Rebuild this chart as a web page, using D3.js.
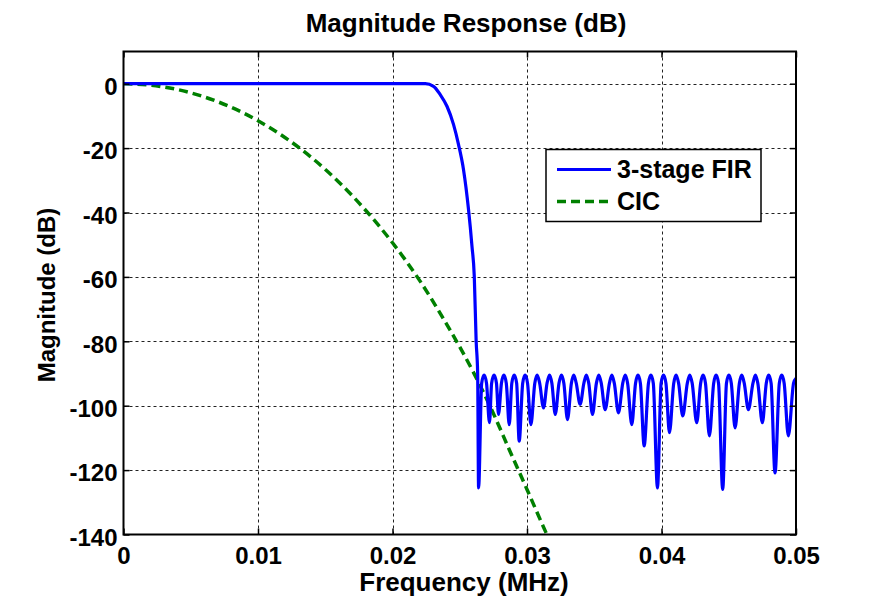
<!DOCTYPE html>
<html>
<head>
<meta charset="utf-8">
<script src="https://cdn.jsdelivr.net/npm/d3@7"></script>
<style>
  html, body { margin: 0; padding: 0; background: #fff; }
  svg text { font-family: "Liberation Sans", Arial, Helvetica, sans-serif; font-weight: bold; fill: #000; }
</style>
</head>
<body>
<svg id="chart" width="883" height="598"></svg>
<script>
// axis ticks
const freqTicks = [0, 0.01, 0.02, 0.03, 0.04, 0.05];
const dbTicks = [0, -20, -40, -60, -80, -100, -120, -140];

// 3-stage FIR: passband and transition band (MHz, dB)
const firPassband = [
  [0, 0], [0.02244, 0], [0.02305, -0.8], [0.02355, -3.4], [0.02405, -7.0],
  [0.02454, -12.7], [0.02491, -18.9], [0.02528, -26.7], [0.02565, -39.0],
  [0.02591, -50.5], [0.02608, -59.8], [0.02622, -80.0], [0.02633, -89.7]
];
// stopband nulls (MHz, dB)
const firNulls = [
  [0.0264, -125.5], [0.02721, -105.3], [0.02788, -102.7], [0.02868, -105.9],
  [0.02942, -111.0], [0.03029, -105.9], [0.03123, -100.7], [0.0321, -102.7],
  [0.03301, -104.3], [0.03395, -99.6], [0.03487, -102.7], [0.03581, -101.2],
  [0.0368, -102.2], [0.03779, -105.9], [0.03871, -112.5], [0.0397, -125.5],
  [0.04059, -108.4], [0.04158, -103.2], [0.04262, -105.3], [0.04356, -109.4],
  [0.04455, -126.0], [0.04547, -106.9], [0.04646, -101.2], [0.0475, -105.3],
  [0.04844, -120.9], [0.04943, -109.4]
];
// stopband ripple peaks (MHz, dB)
const firPeaks = [
  [0.02681, -90.5], [0.02755, -90.5], [0.02828, -90.5], [0.02905, -90.5],
  [0.02986, -90.5], [0.03076, -90.5], [0.03167, -90.5], [0.03256, -90.5],
  [0.03348, -90.5], [0.03441, -90.5], [0.03534, -90.5], [0.03631, -90.5],
  [0.0373, -90.5], [0.03825, -90.5], [0.03921, -90.5], [0.04015, -90.5],
  [0.04109, -90.5], [0.0421, -90.5], [0.04309, -90.5], [0.04406, -90.5],
  [0.04501, -90.5], [0.04597, -90.5], [0.04698, -90.5], [0.04797, -90.5],
  [0.04894, -90.5], [0.05, -91.5]
];
// where each rounded lobe top turns steep (MHz, dB)
const firShoulders = [
  [0.02663, -93], [0.02699, -93], [0.02737, -93], [0.02773, -93],
  [0.0281, -93], [0.02846, -93], [0.02887, -93], [0.02923, -93],
  [0.02968, -93], [0.03004, -93], [0.03058, -93], [0.03094, -93],
  [0.03149, -93], [0.03185, -93], [0.03238, -93], [0.03274, -93],
  [0.0333, -93], [0.03366, -93], [0.03423, -93], [0.03459, -93],
  [0.03516, -93], [0.03552, -93], [0.03613, -93], [0.03649, -93],
  [0.03712, -93], [0.03748, -93], [0.03807, -93], [0.03843, -93],
  [0.03903, -93], [0.03939, -93], [0.03997, -93], [0.04033, -93],
  [0.04091, -93], [0.04127, -93], [0.04192, -93], [0.04228, -93],
  [0.04291, -93], [0.04327, -93], [0.04388, -93], [0.04424, -93],
  [0.04483, -93], [0.04519, -93], [0.04579, -93], [0.04615, -93],
  [0.0468, -93], [0.04716, -93], [0.04779, -93], [0.04815, -93],
  [0.04876, -93], [0.04912, -93], [0.04982, -93]
];
// CIC response (MHz, dB)
const cicResponse = [
  [0, 0], [0.002, -0.45], [0.004, -1.8], [0.006, -4.1], [0.008, -7.3],
  [0.01, -11.5], [0.012, -16.7], [0.014, -23.0], [0.016, -30.5],
  [0.018, -39.3], [0.02, -49.4], [0.022, -61.0], [0.024, -74.5],
  [0.026, -89.5], [0.0274, -101.5], [0.02875, -114.3], [0.03, -126.0],
  [0.0315, -140.2], [0.0317, -142]
];

const seriesNames = ["3-stage FIR", "CIC"];
const seriesColors = ["#0000ff", "#008000"];

const svg = d3.select("#chart");
const L = 123.5, R = 796, T = 51.5, B = 534.5;

const x = d3.scaleLinear().domain([0, 0.05]).range([L, R]);
const y = d3.scaleLinear().domain([-140, 10]).range([B, T]);

svg.append("defs").append("clipPath").attr("id", "clip")
  .append("rect").attr("x", L).attr("y", T).attr("width", R - L).attr("height", B - T);

// grid
const grid = svg.append("g");
grid.selectAll("line.gx")
  .data(freqTicks.slice(1, -1))
  .join("line")
  .attr("x1", d => Math.round(x(d)) + 0.5).attr("x2", d => Math.round(x(d)) + 0.5)
  .attr("y1", T).attr("y2", B)
  .attr("stroke", "#222").attr("stroke-width", 1).attr("stroke-dasharray", "3,3");
grid.selectAll("line.gy")
  .data(dbTicks.slice(0, -1))
  .join("line")
  .attr("y1", d => Math.round(y(d)) + 0.5).attr("y2", d => Math.round(y(d)) + 0.5)
  .attr("x1", L).attr("x2", R)
  .attr("stroke", "#222").attr("stroke-width", 1).attr("stroke-dasharray", "3,3");

// curves
const line = d3.line()
  .x(d => x(d[0])).y(d => y(d[1]))
  .curve(d3.curveMonotoneX);

const firData = firPassband.concat(firNulls, firPeaks, firShoulders).sort((a, b) => a[0] - b[0]);

const plot = svg.append("g").attr("clip-path", "url(#clip)");
plot.append("path")
  .datum(cicResponse)
  .attr("d", line)
  .attr("fill", "none")
  .attr("stroke", seriesColors[1])
  .attr("stroke-width", 3.5)
  .attr("stroke-dasharray", "9,5");
plot.append("path")
  .datum(firData)
  .attr("d", line)
  .attr("fill", "none")
  .attr("stroke", seriesColors[0])
  .attr("stroke-width", 3.2)
  .attr("stroke-linejoin", "round");

// axes: ticks inward on all four sides
const tickLen = 6;
const fmt = d => String(d);
svg.append("g").attr("transform", `translate(0,${B})`)
  .call(d3.axisBottom(x).tickValues(freqTicks).tickSize(-tickLen).tickPadding(12).tickFormat(fmt))
  .call(g => g.select(".domain").remove())
  .call(g => g.selectAll("line").attr("stroke", "#000").attr("stroke-width", 1.5))
  .call(g => g.selectAll("text").attr("font-size", 24).attr("dy", "0.71em"));
svg.append("g").attr("transform", `translate(0,${T})`)
  .call(d3.axisTop(x).tickValues(freqTicks).tickSize(-tickLen).tickFormat(""))
  .call(g => g.select(".domain").remove())
  .call(g => g.selectAll("line").attr("stroke", "#000").attr("stroke-width", 1.5));
svg.append("g").attr("transform", `translate(${L},0)`)
  .call(d3.axisLeft(y).tickValues(dbTicks).tickSize(-tickLen).tickPadding(6).tickFormat(fmt))
  .call(g => g.select(".domain").remove())
  .call(g => g.selectAll("line").attr("stroke", "#000").attr("stroke-width", 1.5))
  .call(g => g.selectAll("text").attr("font-size", 24).attr("dy", "0.45em"));
svg.append("g").attr("transform", `translate(${R},0)`)
  .call(d3.axisRight(y).tickValues(dbTicks).tickSize(-tickLen).tickFormat(""))
  .call(g => g.select(".domain").remove())
  .call(g => g.selectAll("line").attr("stroke", "#000").attr("stroke-width", 1.5));

svg.selectAll(".tick text").attr("font-family", null).attr("fill", "#000");
svg.selectAll("g[font-family]").attr("font-family", null).attr("font-size", null);

// frame
svg.append("rect")
  .attr("x", L).attr("y", T).attr("width", R - L).attr("height", B - T)
  .attr("fill", "none").attr("stroke", "#000").attr("stroke-width", 2);

// titles
svg.append("text").attr("x", 466).attr("y", 32).attr("text-anchor", "middle")
  .attr("font-size", 26).text("Magnitude Response (dB)");
svg.append("text").attr("x", 464).attr("y", 591).attr("text-anchor", "middle")
  .attr("font-size", 26).text("Frequency (MHz)");
svg.append("text").attr("transform", "translate(55,295) rotate(-90)").attr("text-anchor", "middle")
  .attr("font-size", 24).text("Magnitude (dB)");

// legend
const lg = svg.append("g").attr("transform", "translate(546,149.5)");
lg.append("rect").attr("width", 215).attr("height", 72)
  .attr("fill", "#fff").attr("stroke", "#000").attr("stroke-width", 1.5);
const rows = lg.selectAll("g.row").data(seriesNames).join("g")
  .attr("transform", (d, i) => `translate(0,${i === 0 ? 20 : 52})`);
rows.append("line").attr("x1", 11).attr("x2", 65)
  .attr("stroke", (d, i) => seriesColors[i])
  .attr("stroke-width", (d, i) => i === 0 ? 3.2 : 3.5)
  .attr("stroke-dasharray", (d, i) => i === 0 ? null : "9,5");
rows.append("text").attr("x", 71).attr("y", 8).attr("font-size", 25).text(d => d);
</script>
</body>
</html>
